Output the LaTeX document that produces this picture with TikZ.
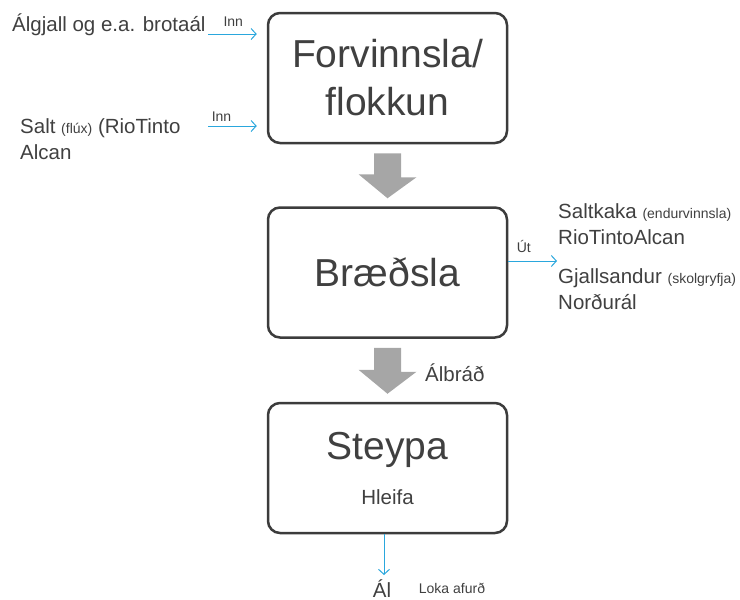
\documentclass[tikz,border=0pt]{standalone}
\usepackage{fontspec}
\setmainfont{Liberation Sans}
\usetikzlibrary{arrows.meta,positioning,calc}
\definecolor{txtgray}{HTML}{404040}
\definecolor{boxgray}{HTML}{3C3C3C}
\definecolor{feedblue}{HTML}{2AA7DD}
\definecolor{flowgray}{HTML}{A6A6A6}
\newcommand{\stagefont}{\fontsize{39}{48}\selectfont}
\newcommand{\labelfont}{\fontsize{20.5}{26}\selectfont}
\newcommand{\notefont}{\fontsize{14}{17}\selectfont}
\tikzset{
    stage/.style={draw=boxgray, line width=2.5pt, rounded corners=12pt, minimum width=239pt, minimum height=130pt, align=center, text=txtgray, font=\stagefont},
    feed/.style={-{Straight Barb[length=5pt, width=11pt]}, feedblue, line width=1pt},
    bigflow/.style={fill=flowgray, draw=none},
    lbl/.style={text=txtgray, inner sep=0pt, font=\labelfont},
    note/.style={text=txtgray, inner sep=0pt, font=\notefont}
}

\begin{document}
\begin{tikzpicture}[x=1pt, y=-1pt]
    \useasboundingbox (0,0) rectangle (740,600);
    % the three stages
    \node[stage] (forv) at (387.5,78) {Forvinnsla/\\flokkun};
    \node[stage] (braed) at (387.5,272.5) {Bræðsla};
    \node[stage, font={\fontsize{39}{45}\selectfont}] (steypa) at (387.5,468) {Steypa\\{\labelfont Hleifa}};

    % grey flow arrows between stages
    \foreach \a/\b in {forv/braed, braed/steypa}
        \draw[bigflow] ($(\a.south)+(-13.5,9)$) -- ++(27,0) -- ++(0,24) -- ++(15.5,0)
            -- ($(\b.north)+(0,-8)$) -- ++(-29,-24) -- ++(15.5,0) -- cycle;
    \node[lbl, anchor=west] (albrad) at (425,373) {Álbráð};

    % inputs
    \node[lbl, anchor=base west] (gjall) at (12,31) {Álgjall og e.a. brotaál};
    \coordinate (gjallarrow) at (208,34);
    \draw[feed, shorten >=10pt] (gjallarrow) -- node[note, above=7pt, pos=0.43] {Inn} (gjallarrow -| forv.west);

    \node[lbl, anchor=north west, align=left] (salt) at (20,118) {Salt {\notefont(flúx)} (RioTinto\\Alcan};
    \coordinate (saltarrow) at (208,126);
    \draw[feed, shorten >=10pt] (saltarrow) -- node[note, above=4pt, pos=0.23] {Inn} (saltarrow -| forv.west);

    % outputs
    \coordinate (utend) at (557,261);
    \draw[feed] (braed.east |- utend) -- node[note, above=8pt, pos=0.32] {Út} (utend);
    \node[lbl, anchor=north west, align=left] (saltkaka) at (558,203) {Saltkaka {\notefont(endurvinnsla)}\\RioTintoAlcan};
    \node[lbl, anchor=north west, align=left] (gjallsandur) at (558,268) {Gjallsandur {\notefont(skolgryfja)}\\Norðurál};

    \node[lbl, anchor=base] (al) at (382,597) {Ál};
    \node[note, anchor=base] (loka) at (452,593) {Loka afurð};
    \coordinate (alarrow) at (384,575);
    \draw[feed] (alarrow |- steypa.south) -- (alarrow);
\end{tikzpicture}
\end{document}
